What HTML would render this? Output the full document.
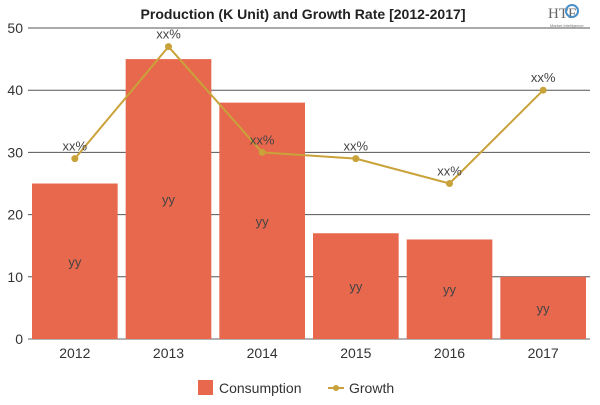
<!DOCTYPE html>
<html><head><meta charset="utf-8"><style>
body{margin:0;background:#fff;width:600px;height:400px;overflow:hidden;font-family:"Liberation Sans","DejaVu Sans",sans-serif}
</style></head><body>
<svg id="c" width="600" height="400" xmlns="http://www.w3.org/2000/svg">
<text x="303" y="19" text-anchor="middle" font-family="'Liberation Sans Narrow','Liberation Sans',sans-serif" font-weight="bold" font-size="14" fill="#222" textLength="325" lengthAdjust="spacingAndGlyphs">Production (K Unit) and Growth Rate [2012-2017]</text>
<g><text x="548" y="18" font-family="'Liberation Serif',serif" font-size="15" fill="#666">HTF</text><circle cx="572" cy="11" r="6" fill="none" stroke="#4a90c8" stroke-width="2"/><text x="550" y="27" font-size="4" fill="#777">Market Intelligence</text></g>
<g id="grid"></g><g id="bars"></g><g id="line"></g><g id="axes"></g>
<g>
<g><rect x="198" y="380" width="15" height="15" fill="#e8684e"/><text x="219" y="393" font-size="14" fill="#333">Consumption</text></g>
<g><line x1="328" y1="388" x2="344" y2="388" stroke="#c9a23a" stroke-width="2"/><circle cx="336" cy="388" r="3" fill="#c9a23a"/><text x="349" y="393" font-size="14" fill="#333">Growth</text></g>
</g>
</svg>
<script>
const categories=["2012","2013","2014","2015","2016","2017"];
const consumption=[25,45,38,17,16,10];
const growth=[29,47,30,29,25,40];
const yTicks=[0,10,20,30,40,50];
const NS="http://www.w3.org/2000/svg";
const L=28,R=590,T=28,B=339,ymax=50;
const cw=(R-L)/categories.length;
const y=v=>B-(v/ymax)*(B-T);
const xc=i=>L+cw*(i+0.5);
function mk(tag,attrs,parent,txt){const e=document.createElementNS(NS,tag);for(const k in attrs)e.setAttribute(k,attrs[k]);if(txt!==undefined)e.textContent=txt;document.getElementById(parent).appendChild(e);return e;}
yTicks.forEach(t=>{
 const g=mk('line',{x1:L,x2:R,y1:y(t),y2:y(t),stroke:t===0?'#666':'#555','stroke-width':1},'grid');
 
 
 const lb=mk('text',{x:L-5,y:y(t)+5,'text-anchor':'end','font-size':14,fill:'#333'},'axes',t);
 
 
});
categories.forEach((c,i)=>{
 const b=mk('rect',{x:L+cw*i+4,y:y(consumption[i]),width:cw-8,height:B-y(consumption[i]),fill:'#e8684e'},'bars');
 
 
 const bl=mk('text',{x:xc(i),y:(y(consumption[i])+B)/2+5,'text-anchor':'middle','font-size':13,fill:'#444'},'bars','yy');
 
 
 const xl=mk('text',{x:xc(i),y:B+19,'text-anchor':'middle','font-size':14,fill:'#333'},'axes',c);
 
 
});
const pl=mk('polyline',{points:growth.map((v,i)=>xc(i)+','+y(v)).join(' '),fill:'none',stroke:'#c9a23a','stroke-width':2},'line');


growth.forEach((v,i)=>{
 const p=mk('circle',{cx:xc(i),cy:y(v),r:3.5,fill:'#c9a23a'},'line');
 
 
 const t=mk('text',{x:xc(i),y:y(v)-8,'text-anchor':'middle','font-size':13,fill:'#444'},'line','xx%');
 
 
});
</script>
</body></html>
